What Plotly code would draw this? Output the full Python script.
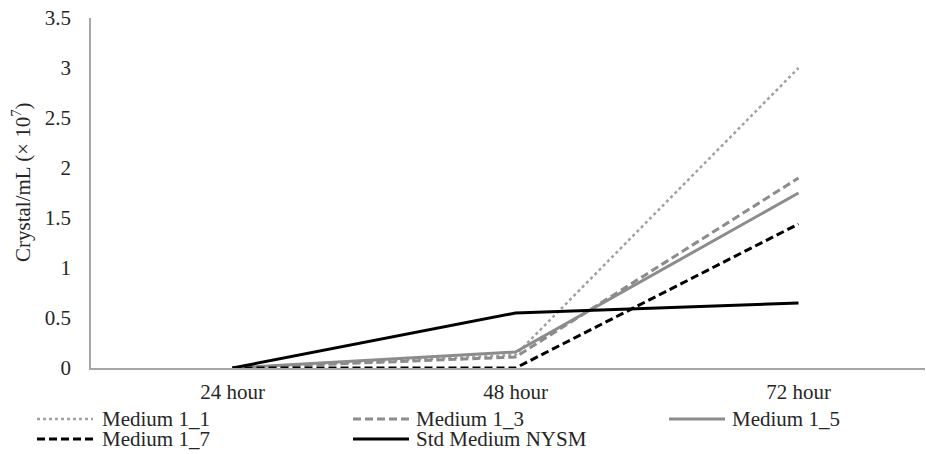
import plotly.graph_objects as go

categories = ["24 hour", "48 hour", "72 hour"]
medium_1_1 = [0, 0.13, 3.0]
medium_1_3 = [0, 0.11, 1.9]
medium_1_5 = [0, 0.16, 1.75]
medium_1_7 = [0, 0, 1.44]
std_nysm = [0, 0.55, 0.65]
y_tickvals = [0, 0.5, 1, 1.5, 2, 2.5, 3, 3.5]
y_ticktext = ["0", "0.5", "1", "1.5", "2", "2.5", "3", "3.5"]

W, H = 926, 454
L, R, T, B = 91, 1, 18, 86
PW, PH = W - L - R, H - T - B

FONT = "Liberation Serif, Times New Roman, serif"
TXT = "#262626"

series = [
    ("Medium 1_1", medium_1_1, dict(color="#a0a0a0", width=2.5, dash="dot")),
    ("Medium 1_3", medium_1_3, dict(color="#8c8c8c", width=3, dash="8px,4px")),
    ("Medium 1_5", medium_1_5, dict(color="#8c8c8c", width=3, dash="solid")),
    ("Medium 1_7", medium_1_7, dict(color="#000000", width=3, dash="8px,4px")),
    ("Std Medium NYSM", std_nysm, dict(color="#000000", width=3, dash="solid")),
]

fig = go.Figure()
for name, vals, line in series:
    fig.add_trace(go.Scatter(x=categories, y=vals, mode="lines", name=name,
                             line=line, showlegend=False))

def px(xp):
    return (xp - L) / PW

def py(yp):
    return (H - B - yp) / PH

# manual legend
legend_pos = [
    (37, 93, 101, 419),
    (353, 409, 415, 419),
    (669, 725, 731, 419),
    (37, 93, 101, 439),
    (353, 409, 415, 439),
]
shapes = []
annotations = []
for (name, vals, line), (x0, x1, xt, yy) in zip(series, legend_pos):
    shapes.append(dict(type="line", xref="paper", yref="paper",
                       x0=px(x0), x1=px(x1), y0=py(yy), y1=py(yy),
                       line=line))
    annotations.append(dict(text=name, xref="paper", yref="paper",
                            x=px(xt), y=py(yy), xanchor="left", yanchor="middle",
                            borderpad=0, showarrow=False,
                            font=dict(family=FONT, size=21, color=TXT)))

annotations.append(dict(text="Crystal/mL (× 10<sup>7</sup>)", xref="paper", yref="paper",
                        x=px(22), y=py(182), textangle=-90, xanchor="center", yanchor="middle",
                        showarrow=False, font=dict(family=FONT, size=21, color=TXT)))

fig.update_layout(
    width=W, height=H,
    margin=dict(l=L, r=R, t=T, b=B, pad=0),
    paper_bgcolor="white", plot_bgcolor="white",
    font=dict(family=FONT, size=21, color=TXT),
    shapes=shapes, annotations=annotations,
    xaxis=dict(type="category", range=[-0.5, 2.447], showgrid=False, zeroline=False,
               showline=True, linecolor="#a6a6a6", linewidth=1.5, ticks="",
               ticklabelstandoff=4, tickfont=dict(family=FONT, size=21, color=TXT)),
    yaxis=dict(range=[0, 3.5], tickvals=y_tickvals, ticktext=y_ticktext,
               showgrid=False, zeroline=False, showline=True, linecolor="#a6a6a6",
               linewidth=1.5, ticks="", ticklabelstandoff=14,
               tickfont=dict(family=FONT, size=21, color=TXT)),
)

fig.write_html("out.html", config={"displayModeBar": False},
               post_script="document.body.style.margin='0';document.body.style.overflow='hidden';")
